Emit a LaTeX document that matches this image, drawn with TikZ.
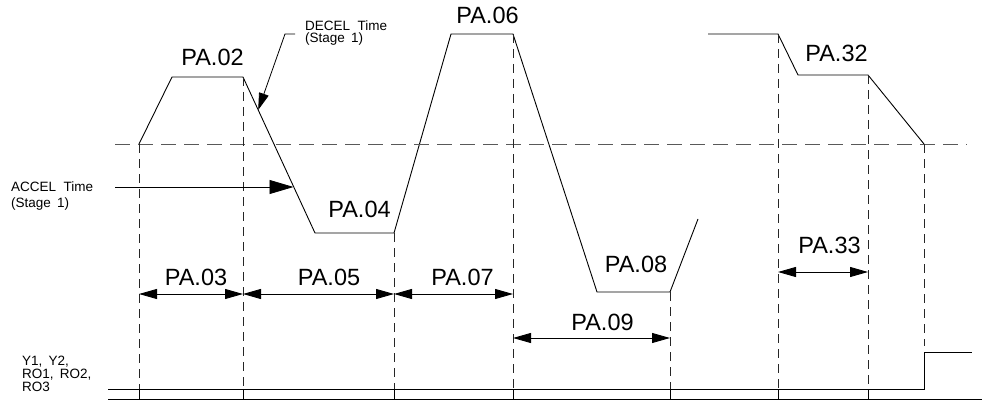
\documentclass[tikz,border=0pt]{standalone}
\usepackage{fontspec}
\setmainfont{Liberation Sans}
\usetikzlibrary{arrows.meta}
\begin{document}
\begin{tikzpicture}[x=1pt,y=-1pt,
  wave/.style={line width=0.9pt, line join=miter},
  vdash/.style={line width=0.8pt, dash pattern=on 9pt off 6pt, black!85},
  hdash/.style={line width=0.8pt, dash pattern=on 15pt off 8pt, black!65},
  solid1/.style={line width=0.9pt},
  dim/.style={line width=0.8pt, {Triangle[length=18pt,width=10pt]}-{Triangle[length=18pt,width=10pt]}},
  big/.style={font=\fontsize{23.5}{26}\selectfont, inner sep=0pt, anchor=base},
  small/.style={font=\fontsize{13.5}{15}\selectfont, inner sep=0pt, anchor=base west},
]
\useasboundingbox (0,0) rectangle (982,401);

% waveform
\coordinate (w0) at (139,144);
\coordinate (w1) at (172,77);
\coordinate (w2) at (243,77);
\coordinate (w3) at (315,233);
\coordinate (w4) at (394,233);
\coordinate (w5) at (451,34);
\coordinate (w6) at (513,34);
\coordinate (w7) at (597,292);
\coordinate (w8) at (670,292);
\coordinate (w9) at (698,219);
\draw[wave] (w0) -- (w1) -- (w2) -- (w3) -- (w4) -- (w5) -- (w6) -- (w7) -- (w8) -- (w9);

\coordinate (s0) at (708,34);
\coordinate (s1) at (778,34);
\coordinate (s2) at (798,75);
\coordinate (s3) at (868,75);
\coordinate (s4) at (924,144);
\draw[wave] (s0) -- (s1) -- (s2) -- (s3) -- (s4);

% horizontal dashed reference line
\coordinate (hl) at (115,144);
\coordinate (hr) at (967,144);
\draw[hdash] (hl) -- (hr);

% bottom lines
\coordinate (base) at (0,389);
\coordinate (bot) at (0,400);
\coordinate (L0) at (108,389);
\coordinate (L1) at (108,399.5);
\coordinate (R1) at (982,399.5);
\coordinate (st0) at (924,389);
\coordinate (st1) at (924,352);
\coordinate (st2) at (972,352);
\draw[solid1] (L0) -- (st0) -- (st1) -- (st2);
\draw[solid1] (L1) -- (R1);

% vertical dashed lines
\foreach \p in {w0,w2,w4,w6,w8,s1,s3}{
  \draw[vdash] (\p) -- (\p|-base);
  \draw[line width=0.8pt] (\p|-base) -- (\p|-bot);
}
\coordinate (s4e) at (924,346);
\draw[vdash] (s4) -- (s4e);

% dimension arrows
\coordinate (d1) at (0,294);
\coordinate (d2) at (0,338);
\coordinate (d3) at (0,272);
\draw[dim] (w0|-d1) -- (w2|-d1);
\draw[dim] (w2|-d1) -- (w4|-d1);
\draw[dim] (w4|-d1) -- (w6|-d1);
\draw[dim] (w6|-d2) -- (w8|-d2);
\draw[dim] (s1|-d3) -- (s3|-d3);

% ACCEL / DECEL pointers
\coordinate (acc0) at (115,187);
\coordinate (acc1) at (293.5,187);
\draw[line width=0.8pt, -{Triangle[length=24pt,width=14pt]}] (acc0) -- (acc1);
\coordinate (dec0) at (295,34);
\coordinate (dec1) at (285,34);
\coordinate (dec2) at (258.2,110);
\draw[line width=0.8pt, -{Triangle[length=17pt,width=10pt]}] (dec0) -- (dec1) -- (dec2);

% big labels
\node[big] (pa02) at (212.5,66) {PA.02};
\node[big] (pa06) at (487.5,24) {PA.06};
\node[big] (pa32) at (836.5,62) {PA.32};
\node[big] (pa04) at (359.5,217) {PA.04};
\node[big] (pa08) at (636,272) {PA.08};
\node[big] (pa03) at (196,285) {PA.03};
\node[big] (pa05) at (329,285) {PA.05};
\node[big] (pa07) at (462.5,285) {PA.07};
\node[big] (pa09) at (602.5,330) {PA.09};
\node[big] (pa33) at (829.5,253) {PA.33};

% small labels
\node[small] (dect1) at (305,30.5) {DECEL\hspace{0.55em}Time};
\node[small] (dect2) at (305,43) {(Stage\hspace{0.45em}1)};
\node[small] (acct1) at (11,191) {ACCEL\hspace{0.55em}Time};
\node[small] (acct2) at (11,207.5) {(Stage\hspace{0.45em}1)};
\node[small] (y1) at (22,365) {Y1,\hspace{0.45em}Y2,};
\node[small] (y2) at (22,378) {RO1,\hspace{0.45em}RO2,};
\node[small] (y3) at (22,391) {RO3};
\end{tikzpicture}
\end{document}
